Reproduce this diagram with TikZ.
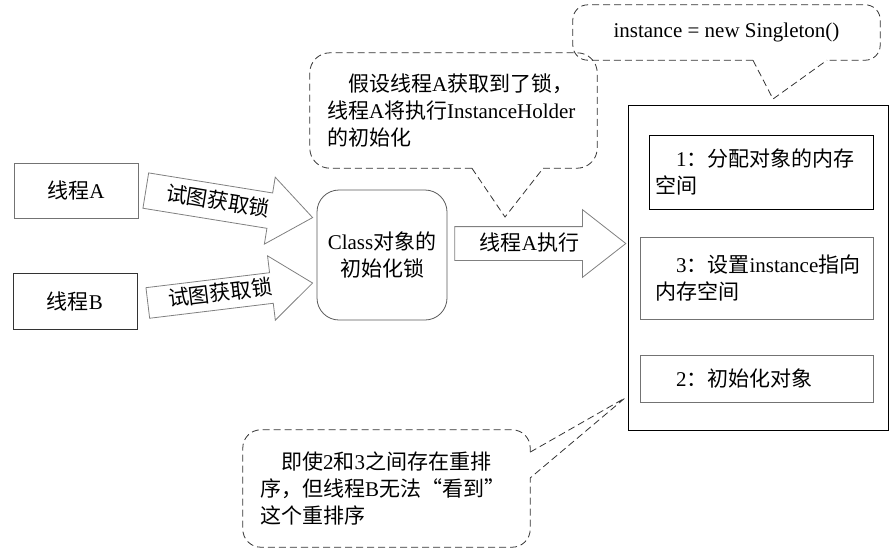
\documentclass[tikz,border=0pt]{standalone}
\usepackage{fontspec}
\setmainfont{Liberation Serif}
\newfontfamily\cjk{Noto Sans CJK SC}
\newcommand\zh[1]{{\cjk #1}}
\usetikzlibrary{shapes.arrows, positioning, calc}

\begin{document}
\begin{tikzpicture}[x=1pt, y=-1pt,
      font=\fontsize{21}{27}\selectfont,
      bx/.style={draw=black!55, line width=0.8pt, inner sep=0pt},
      tx/.style={align=left, inner ysep=0pt},
      ar/.style={single arrow, draw=black!50, fill=white, line width=0.8pt,
        single arrow tip angle=76, text height=16pt, text depth=3pt,
        inner xsep=8pt, anchor=tail},
      co/.style={draw=black!80, line width=0.8pt, dash pattern=on 7pt off 4pt},
    ]
      \useasboundingbox (0,0) rectangle (893,550);

      \node[bx, minimum width=124, minimum height=55] (ta) at (76,190.5) {\zh{线程}A};
      \node[bx, draw=black!80, minimum width=124, minimum height=56] (tb) at (75,301) {\zh{线程}B};
      \node[bx, draw=black!65, rounded corners=22, minimum width=130, minimum height=130,
        align=center] (lock) at (382,255) {Class\zh{对象的}\\\zh{初始化锁}};

      \node[ar, rotate=-9.2, minimum height=169, single arrow head extend=16pt, inner ysep=8pt]
        (aa) at ([xshift=7pt]ta.east) {\zh{试图获取锁}};
      \node[ar, rotate=6.9, minimum height=166, single arrow head extend=17pt, inner ysep=5.5pt]
        (ab) at ([xshift=10pt, yshift=-2pt]tb.east) {\zh{试图获取锁}};
      \node[ar, minimum height=171, single arrow head extend=17pt, inner ysep=7pt]
        (ac) at ([xshift=7pt, yshift=11.5pt]lock.east) {\zh{线程}A\zh{执行}};

      \node[bx, draw=black, minimum width=260, minimum height=325] (mem) at (758,267.5) {};
      \node[bx, draw=black, minimum width=224, minimum height=74, text width=212pt,
        inner xsep=6pt, align=left] (s1) at (761,172)
        {\hspace*{1em}1\zh{：分配对象的内存}\\\zh{空间}};
      \node[bx, minimum width=233, minimum height=82, text width=203pt,
        inner xsep=15pt, align=left] (s3) at (756.5,278)
        {\hspace*{1em}3\zh{：设置}instance\zh{指向}\\\zh{内存空间}};
      \node[bx, minimum width=233, minimum height=47, text width=203pt,
        inner xsep=15pt, align=left] (s2) at (756.5,378.5)
        {\hspace*{1em}2\zh{：初始化对象}};

      % callouts
      \node[tx, minimum width=307, minimum height=55] (cs) at (726.5,32.5) {instance = new Singleton()};
      \coordinate (cs1) at ($(cs.south west)!0.586!(cs.south east)$);
      \coordinate (cs2) at ($(cs.south west)!0.827!(cs.south east)$);
      \coordinate (ps) at (773,99);
      \draw[co, rounded corners=15] (cs1) -- (cs.south west) -- (cs.north west)
        -- (cs.north east) -- (cs.south east) -- (cs2);
      \draw[co] (cs1) -- (ps) -- (cs2);

      \node[tx, text width=253pt, inner xsep=17pt, minimum height=115] (ca) at (453.5,110.5)
        {\hspace*{1em}\zh{假设线程}A\zh{获取到了锁，}\\\zh{线程}A\zh{将执行}InstanceHolder\\\zh{的初始化}};
      \coordinate (ca1) at ($(ca.south west)!0.564!(ca.south east)$);
      \coordinate (ca2) at ($(ca.south west)!0.812!(ca.south east)$);
      \coordinate (pa) at (505,217);
      \draw[co, rounded corners=20] (ca1) -- (ca.south west) -- (ca.north west)
        -- (ca.north east) -- (ca.south east) -- (ca2);
      \draw[co] (ca1) -- (pa) -- (ca2);

      \node[tx, text width=253pt, inner xsep=17pt, minimum height=117] (cb) at (386.5,488.5)
        {\hspace*{1em}\zh{即使}2\zh{和}3\zh{之间存在重排}\\\zh{序，但线程}B\zh{无法“看到”}\\\zh{这个重排序}};
      \coordinate (cb1) at ($(cb.north east)!0.19!(cb.south east)$);
      \coordinate (cb2) at ($(cb.north east)!0.41!(cb.south east)$);
      \coordinate (pb) at (625,398);
      \draw[co, rounded corners=18] (cb1) -- (cb.north east) -- (cb.north west)
        -- (cb.south west) -- (cb.south east) -- (cb2);
      \draw[co] (cb1) -- (pb) -- (cb2);
    \end{tikzpicture}
\end{document}
